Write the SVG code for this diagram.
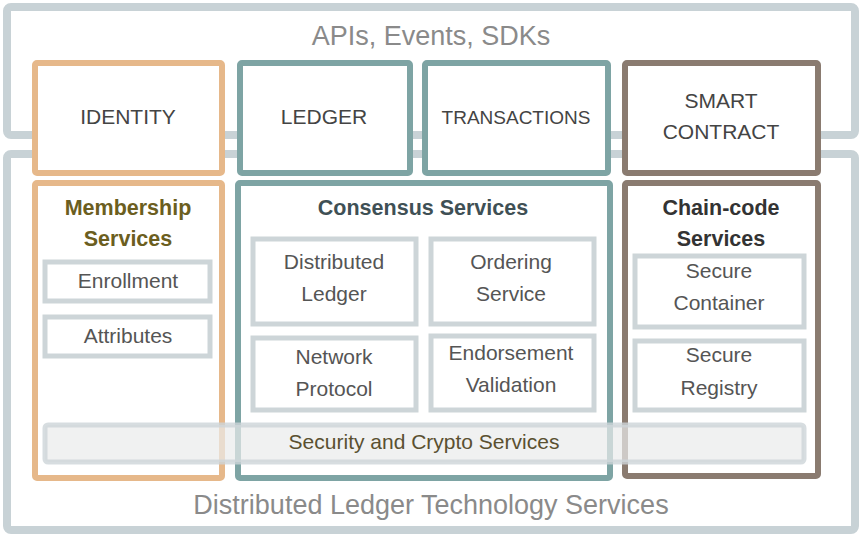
<svg xmlns="http://www.w3.org/2000/svg" width="864" height="543" viewBox="0 0 864 543">
<style>
.fr{fill:#fff;stroke:#c8d2d6;stroke-width:8}
.o{fill:#fff;stroke:#e6b88a;stroke-width:6}
.t{fill:#fff;stroke:#7ea4a4;stroke-width:6}
.b{fill:#fff;stroke:#8a7b70;stroke-width:6}
.in{fill:#fff;stroke:#cdd5d8;stroke-width:5}
text{font-family:"Liberation Sans",Arial,sans-serif;text-anchor:middle;fill:#555}
.h{font-size:21px;fill:#444}
.s{font-size:21px;fill:#555}
.bo{font-size:21.5px;font-weight:bold}
.big{font-size:27px;fill:#8a8a8a}
</style>
<g id="apis"><rect class="fr" x="7" y="7" width="848" height="128" rx="4"/><text class="big" x="431" y="45">APIs, Events, SDKs</text></g>
<g id="dlt"><rect class="fr" x="7" y="154" width="848" height="376" rx="4"/><text class="big" x="431" y="514">Distributed Ledger Technology Services</text></g>
<g id="identity"><rect class="o" x="35" y="63" width="187" height="110" rx="2"/><text class="h" x="128" y="124">IDENTITY</text></g>
<g id="ledger"><rect class="t" x="240" y="63" width="170" height="110" rx="2"/><text class="h" x="324" y="124">LEDGER</text></g>
<g id="transactions"><rect class="t" x="425" y="63" width="183" height="110" rx="2"/><text class="h" x="516" y="124" style="font-size:19px">TRANSACTIONS</text></g>
<g id="smart"><rect class="b" x="625" y="63" width="193" height="110" rx="2"/><text class="h" x="721" y="108">SMART</text><text class="h" x="721" y="139">CONTRACT</text></g>
<g id="membership"><rect class="o" x="35" y="183" width="187" height="295" rx="2"/><text class="bo" x="128" y="215" style="fill:#6b5e20">Membership</text><text class="bo" x="128" y="246" style="fill:#6b5e20">Services</text></g>
<g id="consensus"><rect class="t" x="238" y="183" width="372" height="295" rx="2"/><text class="bo" x="423" y="215" style="fill:#3f5055">Consensus Services</text></g>
<g id="chaincode"><rect class="b" x="625" y="183" width="193" height="293" rx="2"/><text class="bo" x="721" y="215" style="fill:#333">Chain-code</text><text class="bo" x="721" y="246" style="fill:#333">Services</text></g>
<g id="enrollment"><rect class="in" x="45" y="262" width="165" height="39"/><text class="s" x="128" y="288">Enrollment</text></g>
<g id="attributes"><rect class="in" x="45" y="317" width="165" height="39"/><text class="s" x="128" y="343">Attributes</text></g>
<g id="distledger"><rect class="in" x="253" y="239" width="163" height="85"/><text class="s" x="334" y="269">Distributed</text><text class="s" x="334" y="301">Ledger</text></g>
<g id="ordering"><rect class="in" x="431" y="239" width="163" height="85"/><text class="s" x="511" y="269">Ordering</text><text class="s" x="511" y="301">Service</text></g>
<g id="network"><rect class="in" x="253" y="338" width="163" height="72"/><text class="s" x="334" y="364">Network</text><text class="s" x="334" y="396">Protocol</text></g>
<g id="endorsement"><rect class="in" x="431" y="336" width="163" height="74"/><text class="s" x="511" y="360">Endorsement</text><text class="s" x="511" y="392">Validation</text></g>
<g id="container"><rect class="in" x="635" y="256" width="169" height="71"/><text class="s" x="719" y="278">Secure</text><text class="s" x="719" y="310">Container</text></g>
<g id="registry"><rect class="in" x="635" y="341" width="169" height="69"/><text class="s" x="719" y="362">Secure</text><text class="s" x="719" y="395">Registry</text></g>
<g id="security"><rect x="45" y="425" width="759" height="37" rx="3" style="fill:#e9ebeb;fill-opacity:0.7;stroke:#cdd5d8;stroke-width:5;stroke-opacity:0.8"/><text class="s" x="424" y="449" style="fill:#5a5030">Security and Crypto Services</text></g>
<g id="connectors"/>
</svg>
